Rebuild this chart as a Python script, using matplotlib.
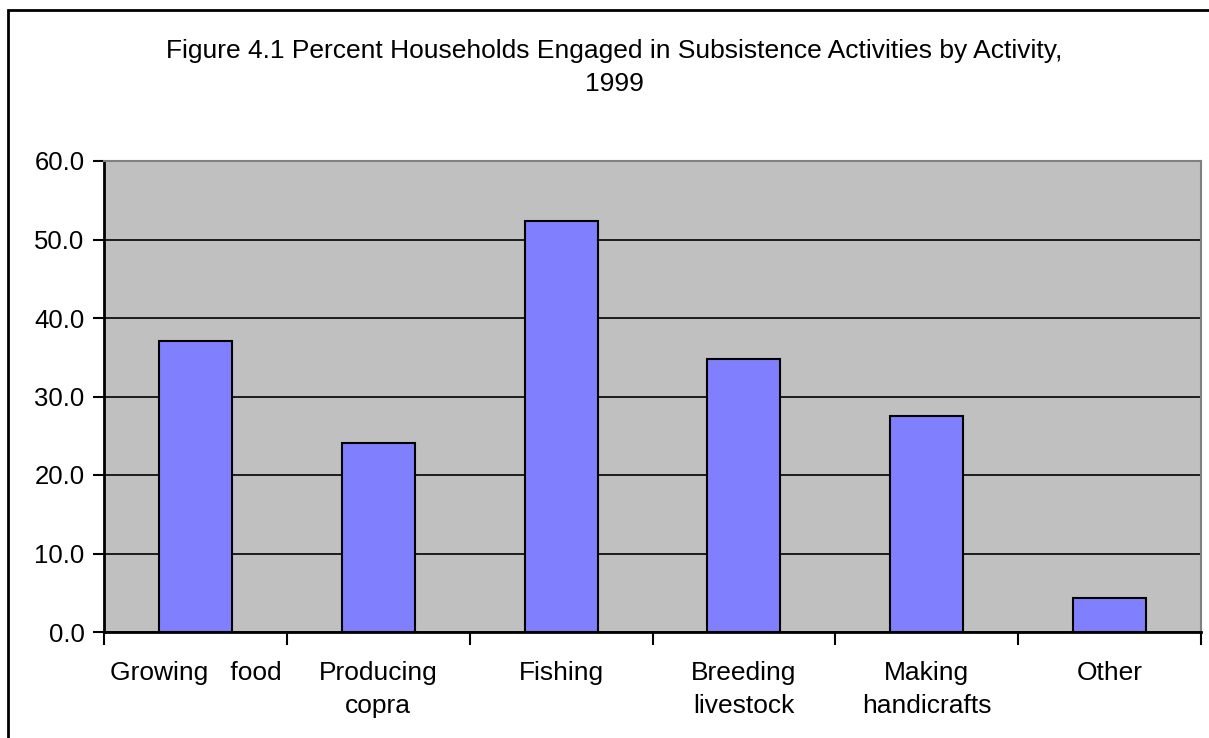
import numpy as np
import matplotlib.pyplot as plt
from matplotlib.patches import Rectangle

# ── Data ───────────────────────────────────────────────────
activities = ['Growing   food', 'Producing\ncopra', 'Fishing',
              'Breeding\nlivestock', 'Making\nhandicrafts', 'Other']
percent = [37.1, 24.1, 52.4, 34.8, 27.5, 4.3]
y_ticks = [0, 10, 20, 30, 40, 50, 60]

plt.rcParams['font.family'] = ['Liberation Sans', 'DejaVu Sans']

W, H = 1209, 738
fig = plt.figure(figsize=(W / 100, H / 100), dpi=100)

# outer frame (runs off the right and bottom edges)
fig.patches.append(Rectangle((8 / W, -0.1), 1.2, 1 - 10 / H + 0.1,
                             transform=fig.transFigure, fill=False,
                             edgecolor='black', linewidth=2))

# plot area in pixels: left 104, right 1201, top 161, bottom 632
ax = fig.add_axes([104 / W, 1 - 632 / H, (1201 - 104) / W, (632 - 161) / H])
ax.set_facecolor('#C0C0C0')

x = np.arange(len(activities))
ax.bar(x, percent, width=0.4, color='#8080FF', edgecolor='black',
       linewidth=1.5, zorder=3)

ax.set_xlim(-0.5, len(activities) - 0.5)
ax.set_ylim(0, 60)
ax.set_yticks(y_ticks)
ax.set_yticklabels([f'{v:.1f}' for v in y_ticks], fontsize=18.5)
ax.yaxis.grid(True, color='black', linewidth=1.2, zorder=1)
ax.set_axisbelow(True)

# category labels centred, tick marks on category boundaries
ax.set_xticks(x)
ax.set_xticklabels(activities, fontsize=19, linespacing=1.45)
ax.tick_params(axis='x', length=0, pad=21)
ax.set_xticks(np.arange(len(activities) + 1) - 0.5, minor=True)
ax.tick_params(axis='x', which='minor', length=9, width=1.5, direction='out')
ax.tick_params(axis='y', length=8, width=1.5, direction='out', pad=6)

for side in ['left', 'bottom']:
    ax.spines[side].set_linewidth(2)
    ax.spines[side].set_color('black')
for side in ['top', 'right']:
    ax.spines[side].set_linewidth(1.5)
    ax.spines[side].set_color('#808080')

fig.text(614 / W, 1 - 51 / H,
         'Figure 4.1 Percent Households Engaged in Subsistence Activities by Activity,',
         ha='center', va='center', fontsize=19)
fig.text(614 / W, 1 - 84 / H, '1999', ha='center', va='center', fontsize=19)

fig.savefig('out.png', dpi=100)
